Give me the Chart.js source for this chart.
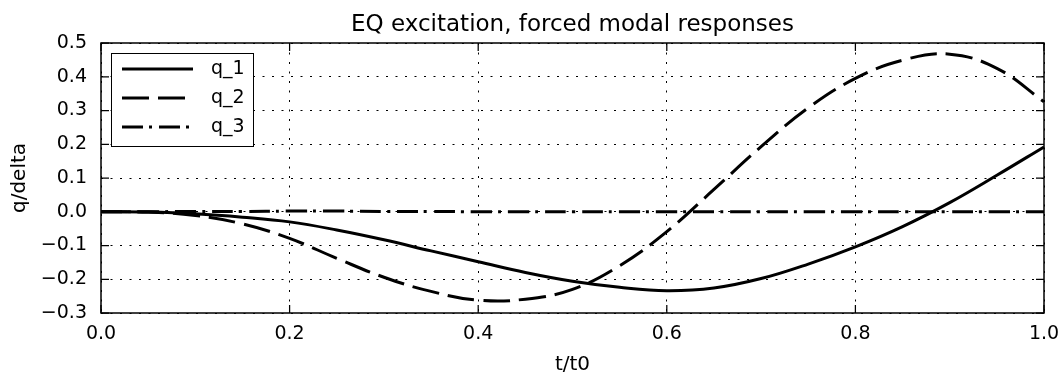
<!DOCTYPE html>
<html>
<head>
<meta charset="utf-8">
<script src="https://cdn.jsdelivr.net/npm/chart.js@4.4.1/dist/chart.umd.min.js"></script>
<style>
  html, body { margin: 0; padding: 0; background: #fff; }
  canvas { display: block; }
</style>
</head>
<body>
<canvas id="myChart" width="1062" height="376"></canvas>
<script>
// normalised time t/t0
const tVals = [0.00, 0.05, 0.10, 0.15, 0.20, 0.25, 0.30, 0.35, 0.40, 0.45, 0.50,
               0.55, 0.60, 0.65, 0.70, 0.75, 0.80, 0.85, 0.90, 0.95, 1.00];

// modal coordinates q/delta
const q1 = [0.000, -0.001, -0.006, -0.016, -0.030, -0.054, -0.083, -0.116, -0.148, -0.180, -0.206,
            -0.224, -0.234, -0.226, -0.198, -0.155, -0.104, -0.044, 0.027, 0.108, 0.192];
const q2 = [0.000, -0.001, -0.011, -0.036, -0.079, -0.138, -0.194, -0.236, -0.262, -0.259, -0.230,
            -0.160, -0.059, 0.066, 0.193, 0.308, 0.395, 0.449, 0.467, 0.425, 0.326];
const q3 = [0.000, 0.000, 0.001, 0.001, 0.002, 0.002, 0.001, 0.001, 0.000, 0.000, 0.000,
            0.000, 0.000, 0.000, 0.000, 0.000, 0.000, 0.000, 0.000, 0.000, 0.000];

const xTicks = [0.0, 0.2, 0.4, 0.6, 0.8, 1.0];
const yTicks = [-0.3, -0.2, -0.1, 0.0, 0.1, 0.2, 0.3, 0.4, 0.5];

const chartTitle = 'EQ excitation, forced modal responses';
const FONT = "'DejaVu Sans', 'Liberation Sans', sans-serif";

function pts(arr) {
    return tVals.map((t, i) => ({ x: t, y: arr[i] }));
}

function fmt(v) {
    var s = (Math.abs(v) < 1e-9 ? 0 : v).toFixed(1);
    return s.replace('-', '\u2212');
}

// title over the plot, frame, inward tick marks and boxed legend
const frameAndLegend = {
    id: 'frameAndLegend',
    afterDraw(chart) {
        const c = chart.ctx;
        const a = chart.chartArea;
        const xs = chart.scales.x, ys = chart.scales.y;
        c.save();
        c.strokeStyle = '#000';
        c.fillStyle = '#000';
        c.setLineDash([]);

        c.font = '23px ' + FONT;
        c.textAlign = 'center';
        c.textBaseline = 'middle';
        c.fillText(chartTitle, (a.left + a.right) / 2, 25);

        // tick marks pointing into the axes
        c.lineWidth = 1.25;
        const tl = 8;
        xs.ticks.forEach(tk => {
            const px = xs.getPixelForValue(tk.value);
            c.beginPath();
            c.moveTo(px, a.bottom); c.lineTo(px, a.bottom - tl);
            c.moveTo(px, a.top); c.lineTo(px, a.top + tl);
            c.stroke();
        });
        ys.ticks.forEach(tk => {
            const py = ys.getPixelForValue(tk.value);
            c.beginPath();
            c.moveTo(a.left, py); c.lineTo(a.left + tl, py);
            c.moveTo(a.right, py); c.lineTo(a.right - tl, py);
            c.stroke();
        });

        c.lineWidth = 1.5;
        c.strokeRect(a.left, a.top, a.right - a.left, a.bottom - a.top);

        // legend
        const bx = a.left + 10, by = a.top + 10, bw = 142, bh = 93;
        c.fillStyle = '#fff';
        c.fillRect(bx, by, bw, bh);
        c.lineWidth = 1;
        c.strokeRect(bx + 0.5, by + 0.5, bw, bh);
        c.font = '19px ' + FONT;
        c.textBaseline = 'middle';
        c.textAlign = 'left';
        chart.data.datasets.forEach((ds, i) => {
            const ly = by + 16 + i * 29;
            c.beginPath();
            c.lineWidth = ds.borderWidth;
            c.setLineDash(ds.borderDash || []);
            c.moveTo(bx + 11, ly);
            c.lineTo(bx + 82, ly);
            c.stroke();
            c.setLineDash([]);
            c.fillStyle = '#000';
            c.fillText(ds.label, bx + 100, ly);
        });
        c.restore();
    }
};

const ctx = document.getElementById('myChart');
var chartObject = {
    type: 'line',
    data: {
        datasets: [
            { label: 'q_1', data: pts(q1), borderColor: '#000', borderWidth: 3, borderDash: [] },
            { label: 'q_2', data: pts(q2), borderColor: '#000', borderWidth: 3, borderDash: [27, 9] },
            { label: 'q_3', data: pts(q3), borderColor: '#000', borderWidth: 3, borderDash: [21, 6, 3, 7] }
        ]
    },
    options: {
        responsive: false,
        animation: false,
        devicePixelRatio: 1,
        layout: { padding: { left: 0, right: 18, top: 43, bottom: 0 } },
        elements: {
            point: { radius: 0 },
            line: { tension: 0.4, fill: false }
        },
        plugins: {
            legend: { display: false },
            tooltip: { enabled: false },
            title: { display: false }
        },
        scales: {
            x: {
                type: 'linear',
                min: 0, max: 1,
                afterFit(scale) {
                    scale.height = 63;
                    scale.paddingLeft = 0;
                    scale.paddingRight = 0;
                },
                afterBuildTicks(scale) { scale.ticks = xTicks.map(v => ({ value: v })); },
                ticks: {
                    color: '#000',
                    font: { family: FONT, size: 19 },
                    padding: 10,
                    maxRotation: 0,
                    callback: v => fmt(v)
                },
                grid: { color: '#000', lineWidth: 1, drawTicks: false },
                border: { display: false, dash: [2, 7.5] },
                title: {
                    display: true, text: 't/t0', color: '#000',
                    font: { family: FONT, size: 20, lineHeight: 1.1 },
                    padding: { top: 0, bottom: 0 }
                }
            },
            y: {
                type: 'linear',
                min: -0.3, max: 0.5,
                afterFit(scale) {
                    scale.width = 101;
                    scale.paddingTop = 0;
                    scale.paddingBottom = 0;
                },
                afterBuildTicks(scale) { scale.ticks = yTicks.map(v => ({ value: v })); },
                ticks: {
                    color: '#000',
                    font: { family: FONT, size: 19 },
                    padding: 14,
                    callback: v => fmt(v)
                },
                grid: { color: '#000', lineWidth: 1, drawTicks: false },
                border: { display: false, dash: [2, 7.5] },
                title: {
                    display: true, text: 'q/delta', color: '#000',
                    font: { family: FONT, size: 20, lineHeight: 1.1 },
                    padding: { top: 9, bottom: 0 }
                }
            }
        }
    },
    plugins: [frameAndLegend]
};
var chart = new Chart(ctx, chartObject);
</script>
</body>
</html>
